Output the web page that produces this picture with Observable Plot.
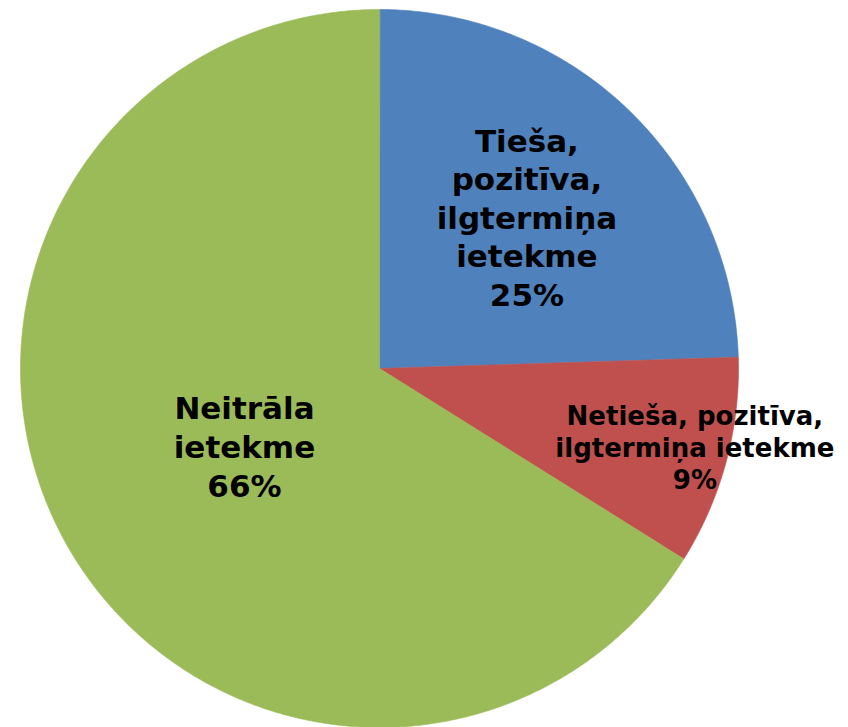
<!DOCTYPE html>
<html>
<head>
<meta charset="utf-8">
<script src="https://cdn.jsdelivr.net/npm/d3@7"></script>
<script src="https://cdn.jsdelivr.net/npm/@observablehq/plot@0.6"></script>
<style>
  html, body { margin: 0; padding: 0; background: #fff; }
  #chart svg { display: block; }
</style>
</head>
<body>
<div id="chart"></div>
<script>
// ---- data ----
const categories = [
  "Tieša,\npozitīva,\nilgtermiņa\nietekme",
  "Netieša, pozitīva,\nilgtermiņa ietekme",
  "Neitrāla\nietekme"
];
const shares = [24.5, 9.4, 66.1];
const colors = ["#4F81BD", "#C0504D", "#9BBB59"];

// ---- layout (not data) ----
const labelRadius = [0.59, 0.91, 0.43];
const labelSize = [31, 26, 31];
const labelLineHeight = [1.24, 1.23, 1.27];
const labelDy = [0, -7, 2];

// ---- build slices in unit (data) space, clockwise from 12 o'clock ----
const total = d3.sum(shares);
let acc = 0;
const slices = categories.map((c, i) => {
  const a0 = acc / total * 2 * Math.PI;
  acc += shares[i];
  const a1 = acc / total * 2 * Math.PI;
  return {name: c, value: shares[i], a0, a1, i};
});
const points = [];
for (const s of slices) {
  points.push({slice: s.name, x: 0, y: 0});
  const n = Math.max(2, Math.ceil((s.a1 - s.a0) / (Math.PI / 360)));
  for (let k = 0; k <= n; k++) {
    const a = s.a0 + (s.a1 - s.a0) * k / n;
    points.push({slice: s.name, x: Math.sin(a), y: Math.cos(a)});
  }
}
const outline = points.filter(p => !(p.x === 0 && p.y === 0));
const labels = slices.map(s => {
  const m = (s.a0 + s.a1) / 2;
  const r = labelRadius[s.i];
  return {
    i: s.i,
    x: r * Math.sin(m),
    y: r * Math.cos(m),
    text: s.name + "\n" + Math.round(s.value / total * 100) + "%"
  };
});

const textMarks = labels.map(l => Plot.text([l], {
  x: "x", y: "y", text: "text",
  fontSize: labelSize[l.i],
  lineHeight: labelLineHeight[l.i],
  dy: labelDy[l.i],
  fontWeight: "bold",
  fontFamily: "DejaVu Sans, Verdana, sans-serif",
  fill: "black"
}));

const chart = Plot.plot({
  width: 848,
  height: 727,
  margin: 0,
  style: {background: "white", overflow: "visible"},
  x: {domain: [-1, 1], range: [20, 738], axis: null},
  y: {domain: [-1, 1], range: [727, 9], axis: null},
  color: {domain: categories, range: colors},
  marks: [
    // soft shadow behind the pie
    Plot.line(outline, {
      x: "x", y: "y",
      fill: "#000", fillOpacity: 0.35, stroke: "none",
      curve: "linear-closed",
      ariaLabel: "shadow"
    }),
    Plot.line(points, {
      x: "x", y: "y", z: "slice",
      fill: "slice", stroke: "slice", strokeWidth: 0.6,
      curve: "linear-closed"
    }),
    ...textMarks
  ]
});
const sh = chart.querySelector('g[aria-label="shadow"]');
if (sh) sh.style.filter = "blur(4px)";
document.getElementById("chart").appendChild(chart);
</script>
</body>
</html>
